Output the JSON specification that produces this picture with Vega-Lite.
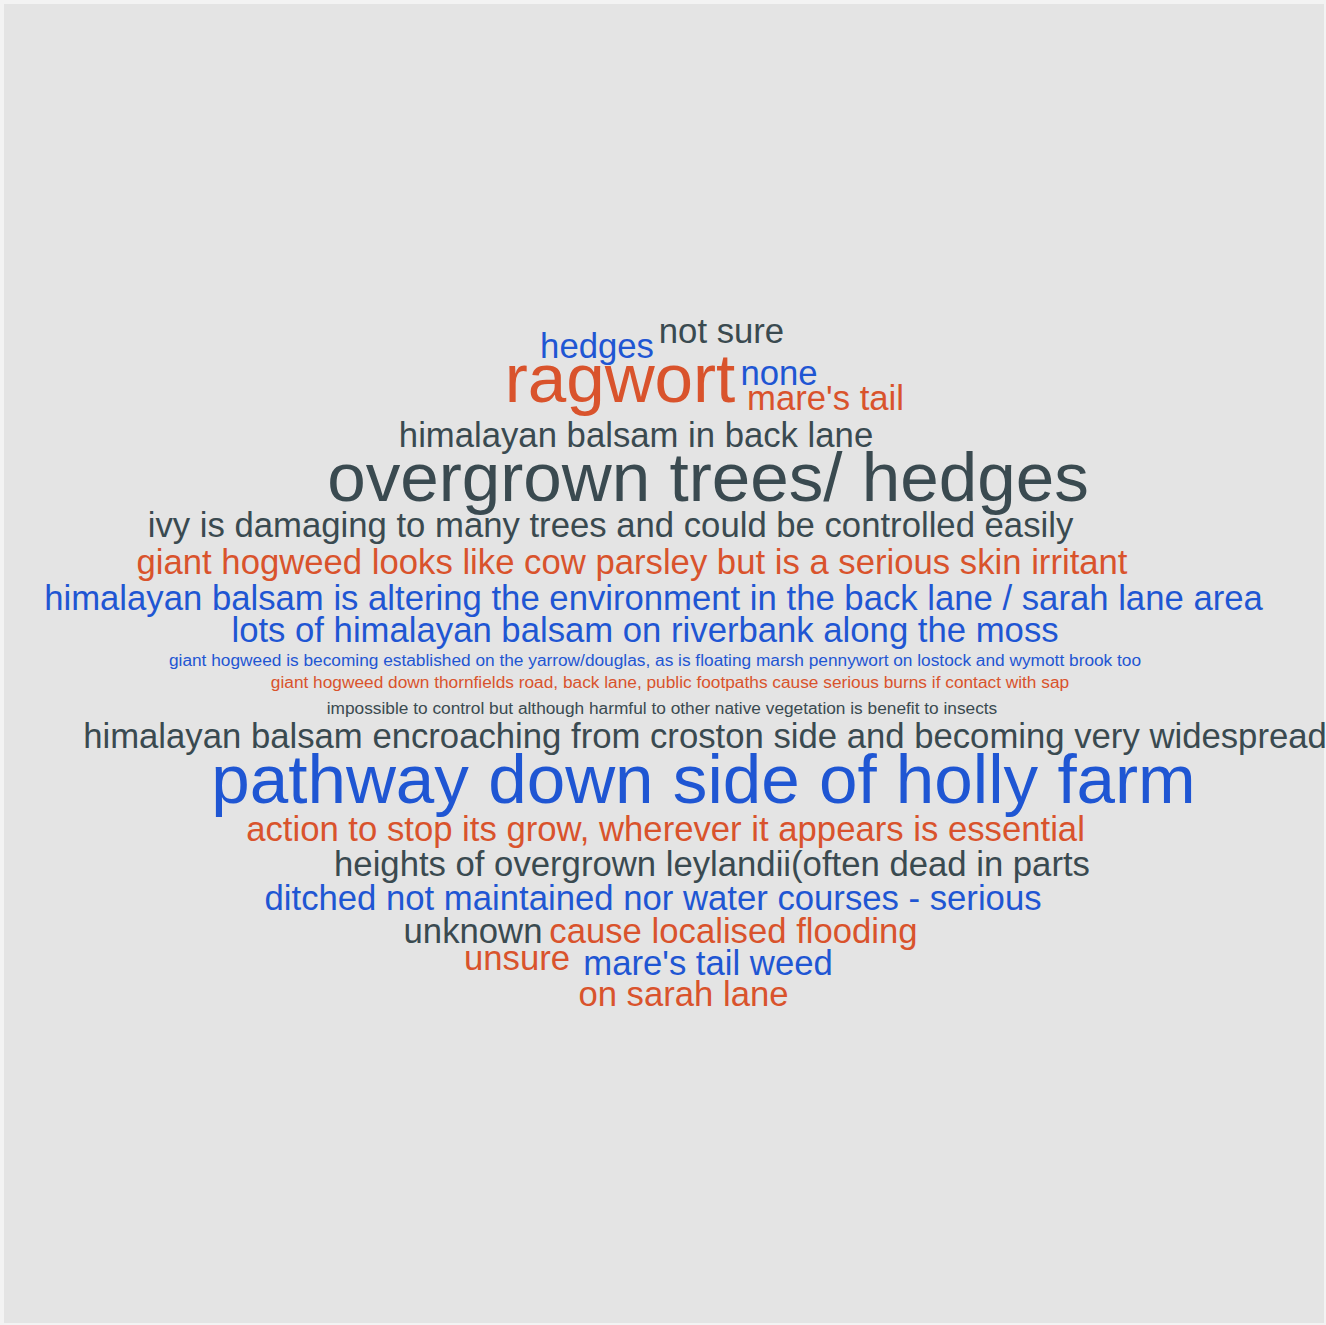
{
  "$schema": "https://vega.github.io/schema/vega-lite/v6.json",
  "autosize": {"type": "fit", "contains": "padding"},
  "width": 1326,
  "height": 1325,
  "padding": {"left": 4, "top": 4, "right": 2, "bottom": 2},
  "background": "#f3f3f3",
  "config": {"view": {"stroke": null, "fill": "#e4e4e4"}},
  "data": {
    "values": [
      {"text": "hedges", "x": 597, "y": 358, "weight": 2, "group": "b"},
      {"text": "not sure", "x": 721.5, "y": 343, "weight": 2, "group": "c"},
      {"text": "ragwort", "x": 620, "y": 402, "weight": 4, "group": "a"},
      {"text": "none", "x": 779, "y": 385, "weight": 2, "group": "b"},
      {"text": "mare's tail", "x": 825.5, "y": 410, "weight": 2, "group": "a"},
      {"text": "himalayan balsam in back lane", "x": 636, "y": 447, "weight": 2, "group": "c"},
      {"text": "overgrown trees/ hedges", "x": 708, "y": 501, "weight": 4, "group": "c"},
      {"text": "ivy is damaging to many trees and could be controlled easily", "x": 610.5, "y": 537, "weight": 2, "group": "c"},
      {"text": "giant hogweed looks like cow parsley but is a serious skin irritant", "x": 632, "y": 574, "weight": 2, "group": "a"},
      {"text": "himalayan balsam is altering the environment in the back lane / sarah lane area", "x": 653.5, "y": 610, "weight": 2, "group": "b"},
      {"text": "lots of himalayan balsam on riverbank along the moss", "x": 645, "y": 642, "weight": 2, "group": "b"},
      {"text": "giant hogweed is becoming established on the yarrow/douglas, as is floating marsh pennywort on lostock and wymott brook too", "x": 655, "y": 666, "weight": 1, "group": "b"},
      {"text": "giant hogweed down thornfields road, back lane,  public footpaths  cause serious burns if contact with sap", "x": 670, "y": 688, "weight": 1, "group": "a"},
      {"text": "impossible to control but although harmful to other native vegetation is benefit to insects", "x": 662, "y": 714, "weight": 1, "group": "c"},
      {"text": "himalayan balsam encroaching from croston side and becoming very widespread", "x": 705, "y": 748, "weight": 2, "group": "c"},
      {"text": "pathway down side of holly farm", "x": 703.5, "y": 803, "weight": 4, "group": "b"},
      {"text": "action to stop its grow, wherever it appears is essential", "x": 665.5, "y": 841, "weight": 2, "group": "a"},
      {"text": "heights of overgrown leylandii(often dead in parts", "x": 712, "y": 876, "weight": 2, "group": "c"},
      {"text": "ditched not maintained nor water courses - serious", "x": 653, "y": 910, "weight": 2, "group": "b"},
      {"text": "unknown", "x": 473, "y": 943, "weight": 2, "group": "c"},
      {"text": "cause localised flooding", "x": 733.5, "y": 943, "weight": 2, "group": "a"},
      {"text": "unsure", "x": 517, "y": 970, "weight": 2, "group": "a"},
      {"text": "mare's tail weed", "x": 708, "y": 975, "weight": 2, "group": "b"},
      {"text": "on sarah lane", "x": 683.5, "y": 1006, "weight": 2, "group": "a"}
    ]
  },
  "encoding": {
    "x": {"field": "x", "type": "quantitative", "axis": null, "scale": {"domain": [4, 1324], "nice": false, "zero": false}},
    "y": {"field": "y", "type": "quantitative", "axis": null, "scale": {"domain": [4, 1323], "nice": false, "zero": false, "reverse": true}},
    "size": {"field": "weight", "type": "quantitative", "legend": null, "scale": {"type": "linear", "domain": [1, 2, 4], "range": [17.3, 34.7, 69.2], "zero": false}},
    "color": {"field": "group", "type": "nominal", "legend": null, "scale": {"domain": ["a", "b", "c"], "range": ["#d9532c", "#1f56d3", "#3a4a50"]}},
    "text": {"field": "text", "type": "nominal"}
  },
  "mark": {"type": "text", "align": "center", "baseline": "alphabetic", "font": "Liberation Sans"}
}
